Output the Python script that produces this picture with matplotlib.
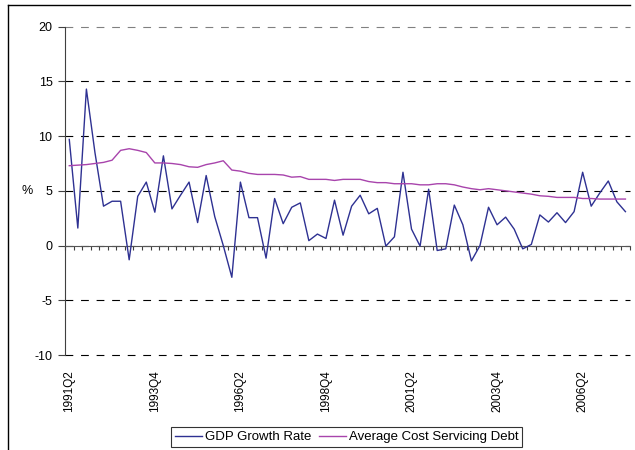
import matplotlib
matplotlib.use("Agg")
import matplotlib.pyplot as plt
from matplotlib.lines import Line2D

plt.rcParams['font.family'] = ['Liberation Sans', 'DejaVu Sans']
plt.rcParams['axes.unicode_minus'] = False

# quarters 1991Q2 .. 2007Q3
QUARTERS = ['%dQ%d' % (y, q) for y in range(1991, 2008) for q in range(1, 5)][1:67]

GDP_GROWTH = [9.7, 1.6, 14.3, 8.5, 3.6, 4.05, 4.05, -1.3, 4.5, 5.8,
              3.05, 8.2, 3.35, 4.6, 5.8, 2.1, 6.4, 2.65, 0.0, -2.9,
              5.8, 2.55, 2.55, -1.15, 4.3, 2.0, 3.5, 3.9, 0.45, 1.05,
              0.65, 4.15, 0.95, 3.6, 4.6, 2.9, 3.4, -0.05, 0.8, 6.7,
              1.5, -0.05, 5.15, -0.45, -0.3, 3.7, 1.9, -1.4, 0.0, 3.5,
              1.9, 2.6, 1.5, -0.3, 0.1, 2.8, 2.15, 3.0, 2.1, 3.1,
              6.7, 3.6, 4.8, 5.9, 4.0, 3.1]

DEBT_COST = [7.3, 7.35, 7.4, 7.5, 7.6, 7.8, 8.7, 8.85, 8.7, 8.5,
             7.55, 7.55, 7.5, 7.4, 7.2, 7.15, 7.4, 7.55, 7.75, 6.9,
             6.8, 6.6, 6.5, 6.5, 6.5, 6.45, 6.25, 6.3, 6.05, 6.05,
             6.05, 5.95, 6.05, 6.05, 6.05, 5.85, 5.75, 5.75, 5.65, 5.65,
             5.65, 5.55, 5.55, 5.65, 5.65, 5.55, 5.35, 5.2, 5.1, 5.2,
             5.1, 5.0, 4.9, 4.8, 4.7, 4.55, 4.5, 4.4, 4.4, 4.4,
             4.3, 4.3, 4.25, 4.25, 4.25, 4.25]

LABEL_STEP = 10
AXIS_COL = '#404040'

fig = plt.figure(figsize=(6.35, 4.5), dpi=100)
ax = fig.add_axes([65 / 635, 95 / 450, 564.7 / 635, 328.3 / 450])

x = list(range(len(QUARTERS)))
ax.plot(x, GDP_GROWTH, color='#2e3192', lw=1.0, label='GDP Growth Rate', zorder=3)
ax.plot(x, DEBT_COST, color='#a844ac', lw=1.0, label='Average Cost Servicing Debt', zorder=3)

ax.set_xlim(-0.5, len(QUARTERS) - 0.5)
ax.set_ylim(-10, 20)
ax.set_yticks(range(-10, 21, 5))
ax.grid(axis='y', color='black', lw=0.8, ls=(0, (7, 7)), zorder=0)
for gl in ax.get_ygridlines():
    gl.set_clip_on(False)
ax.get_ygridlines()[-1].set_color('#808080')

for s in ['top', 'right']:
    ax.spines[s].set_visible(False)
ax.spines['left'].set_color(AXIS_COL)
ax.spines['bottom'].set_color('#555555')
ax.spines['bottom'].set_position(('data', 0))

# category boundary ticks on the zero line
ax.set_xticks([i - 0.5 for i in range(len(QUARTERS) + 1)])
ax.tick_params(axis='x', length=3, direction='out', color=AXIS_COL, labelbottom=False)
ax.tick_params(axis='y', length=5, direction='out', color=AXIS_COL, labelsize=9, pad=4)

# labels sit below the plot area
sec = ax.secondary_xaxis('bottom')
sec.set_xticks(x[::LABEL_STEP], labels=QUARTERS[::LABEL_STEP])
sec.tick_params(length=0, pad=11, labelrotation=90, labelsize=8.5)
sec.spines['bottom'].set_visible(False)

ax.set_ylabel('%', rotation=0, fontsize=9, ha='center', va='center')
ax.yaxis.set_label_coords(-(65 - 26.7) / 564.7, 0.5)

leg = fig.legend(loc='center', bbox_to_anchor=(346.5 / 635, 1 - 437 / 450), ncol=2,
                 frameon=True, fancybox=False, edgecolor='black', fontsize=9.5,
                 handlelength=2.05, columnspacing=0.6, borderpad=0.3,
                 handletextpad=0.2, borderaxespad=0)
leg.get_frame().set_linewidth(0.8)

# outer chart frame (left and top edges visible)
fig.add_artist(Line2D([8 / 635, 8 / 635], [0, 1 - 5 / 450], transform=fig.transFigure,
                      color='black', lw=1))
fig.add_artist(Line2D([8 / 635, 630 / 635], [1 - 5 / 450, 1 - 5 / 450],
                      transform=fig.transFigure, color='black', lw=1))

fig.savefig('out.png', dpi=100)
